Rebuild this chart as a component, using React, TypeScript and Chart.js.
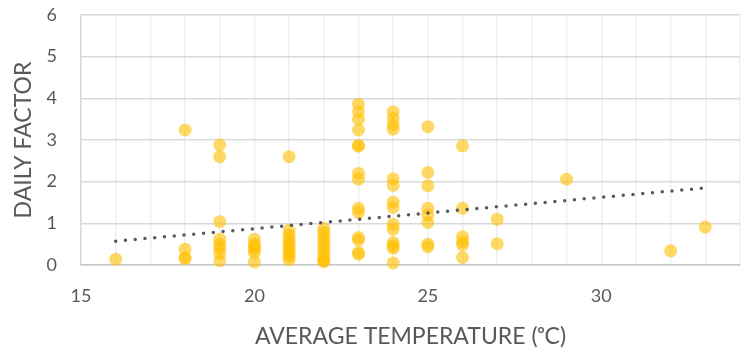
import React, { useEffect, useRef } from "react";
import { Chart, registerables } from "chart.js";

Chart.register(...registerables);

// Temperatures (ºC) and the daily factors observed at each
const temperatures = [16, 18, 19, 20, 21, 22, 23, 24, 25, 26, 27, 29, 32, 33];
const factorsAt16 = [0.14];
const factorsAt18 = [3.24, 0.38, 0.18, 0.15];
const factorsAt19 = [2.88, 2.6, 1.04, 0.62, 0.5, 0.4, 0.28, 0.1];
const factorsAt20 = [0.62, 0.5, 0.44, 0.38, 0.3, 0.07];
const factorsAt21 = [2.6, 0.84, 0.72, 0.62, 0.52, 0.44, 0.36, 0.28, 0.2, 0.13];
const factorsAt22 = [0.88, 0.78, 0.68, 0.58, 0.48, 0.38, 0.28, 0.18, 0.1, 0.08];
const factorsAt23 = [3.86, 3.68, 3.5, 3.24, 2.87, 2.85, 2.2, 2.06, 1.36, 1.26, 0.66, 0.6, 0.3, 0.26];
const factorsAt24 = [3.68, 3.52, 3.37, 3.26, 2.07, 1.91, 1.51, 1.38, 0.98, 0.86, 0.54, 0.46, 0.4, 0.05];
const factorsAt25 = [3.32, 2.22, 1.9, 1.36, 1.2, 1.02, 0.5, 0.44];
const factorsAt26 = [2.86, 1.36, 0.68, 0.56, 0.48, 0.18];
const factorsAt27 = [1.1, 0.51];
const factorsAt29 = [2.06];
const factorsAt32 = [0.34];
const factorsAt33 = [0.91];
const factorGroups = [
  factorsAt16, factorsAt18, factorsAt19, factorsAt20, factorsAt21, factorsAt22, factorsAt23,
  factorsAt24, factorsAt25, factorsAt26, factorsAt27, factorsAt29, factorsAt32, factorsAt33,
];

// Linear trendline end points
const trendX = [16, 33];
const trendY = [0.57, 1.85];

// Axis ticks
const xLabelTicks = [15, 20, 25, 30];
const yTicks = [0, 1, 2, 3, 4, 5, 6];

const xTitle = "AVERAGE TEMPERATURE (ᵒC)";
const yTitle = "DAILY FACTOR";

export default function App() {
  const ref = useRef<HTMLCanvasElement | null>(null);

  useEffect(() => {
    if (!ref.current) return;
    const points: { x: number; y: number }[] = [];
    temperatures.forEach((t, i) => {
      factorGroups[i].forEach((f) => points.push({ x: t, y: f }));
    });
    const trend = trendX.map((x, i) => ({ x, y: trendY[i] }));

    const chart = new Chart(ref.current, {
      type: "scatter",
      data: {
        datasets: [
          {
            type: "line",
            data: trend,
            borderColor: "#595959",
            borderWidth: 3.5,
            borderDash: [0, 9.8],
            borderCapStyle: "round",
            pointRadius: 0,
            fill: false,
            clip: false,
            order: 0,
          } as any,
          {
            data: points,
            backgroundColor: "rgba(255,192,0,0.6)",
            borderWidth: 0,
            pointRadius: 6.5,
            clip: false,
            order: 1,
          },
        ],
      },
      options: {
        animation: false,
        responsive: false,
        layout: { autoPadding: false, padding: { left: 0, right: 1, top: 15, bottom: 0 } },
        plugins: { legend: { display: false }, tooltip: { enabled: false } },
        scales: {
          x: {
            type: "linear",
            min: 15,
            max: 34,
            afterFit: (s: any) => {
              s.height = 89;
            },
            ticks: {
              stepSize: 1,
              autoSkip: false,
              maxRotation: 0,
              padding: 0,
              color: "#595959",
              font: { family: "Lato", size: 18 },
              callback: (v: any) => (xLabelTicks.includes(Number(v)) ? String(v) : ""),
            },
            grid: {
              color: "#efefef",
              lineWidth: 1.5,
              drawTicks: true,
              tickLength: 20,
              tickColor: "rgba(0,0,0,0)",
            },
            border: { color: "#c8c8c8", width: 1.5 },
            title: {
              display: true,
              text: xTitle,
              color: "#595959",
              font: { family: "Lato", size: 23, lineHeight: 1 },
              padding: { top: 0, bottom: 6 },
            },
          },
          y: {
            type: "linear",
            min: 0,
            max: 6,
            afterFit: (s: any) => {
              s.width = 81;
            },
            afterBuildTicks: (s: any) => {
              s.ticks = yTicks.map((v) => ({ value: v }));
            },
            ticks: {
              padding: 0,
              color: "#595959",
              font: { family: "Lato", size: 18 },
            },
            grid: {
              color: "#d9d9d9",
              lineWidth: 1.5,
              drawTicks: true,
              tickLength: 24,
              tickColor: "rgba(0,0,0,0)",
            },
            border: { color: "#d9d9d9", width: 1.5 },
            title: {
              display: true,
              text: yTitle,
              color: "#595959",
              font: { family: "Lato", size: 23, lineHeight: 1 },
              padding: { top: 12, bottom: 0 },
            },
          },
        },
      },
    });
    return () => chart.destroy();
  }, []);

  return (
    <div style={{ position: "absolute", left: 0, top: 0, width: 741, height: 354, background: "#fff" }}>
      <canvas ref={ref} width={741} height={354} style={{ display: "block" }} />
    </div>
  );
}
